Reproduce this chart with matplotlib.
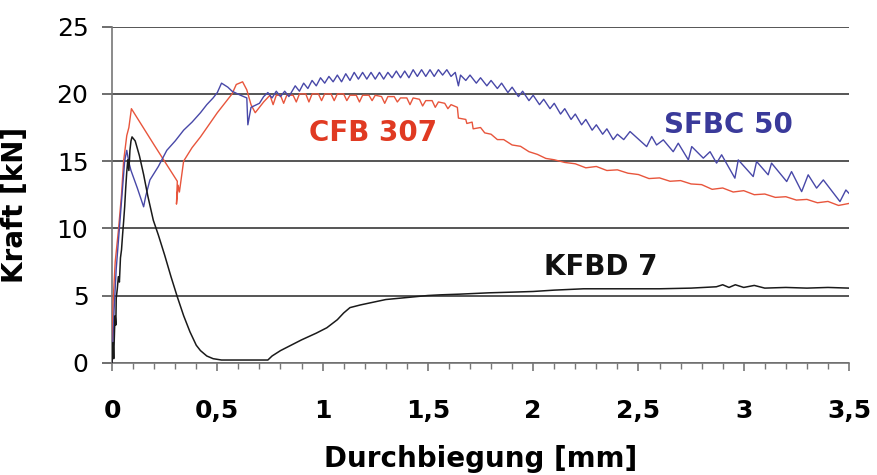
import matplotlib
matplotlib.use("Agg")
import matplotlib.pyplot as plt
from matplotlib.ticker import MultipleLocator, FuncFormatter

# ---- data ----
cfb_x = [0, 0.005, 0.015, 0.03, 0.045, 0.055, 0.07, 0.08, 0.092,
         0.2, 0.31, 0.306, 0.314, 0.32, 0.34, 0.38, 0.42, 0.46, 0.50, 0.54, 0.57, 0.59, 0.62, 0.64, 0.66, 0.68, 0.72,
         0.75, 0.765, 0.78, 0.80, 0.815, 0.83, 0.86, 0.875, 0.89, 0.92, 0.935, 0.95, 0.98, 0.995, 1.01,
         1.04, 1.055, 1.07, 1.10, 1.115, 1.13, 1.16, 1.175, 1.19, 1.22, 1.235, 1.25, 1.28, 1.295, 1.31,
         1.34, 1.355, 1.37, 1.40, 1.415, 1.43, 1.46, 1.475, 1.49, 1.52, 1.535, 1.55, 1.58, 1.595, 1.61, 1.64,
         1.645, 1.68, 1.685, 1.71, 1.715, 1.75, 1.77, 1.80, 1.83, 1.86, 1.90, 1.94, 1.98, 2.02, 2.06, 2.10,
         2.15, 2.20, 2.25, 2.30, 2.35, 2.40, 2.45, 2.50, 2.55, 2.60, 2.65, 2.70, 2.75, 2.80, 2.85, 2.90,
         2.95, 3.00, 3.05, 3.10, 3.15, 3.20, 3.25, 3.30, 3.35, 3.40, 3.45, 3.50]
cfb_y = [0, 4.5, 7.5, 9.8, 12.5, 15.0, 16.9, 17.5, 18.9,
         16.2, 13.5, 11.8, 13.2, 12.7, 15.0, 16.0, 16.8, 17.7, 18.6, 19.4, 20.0, 20.7, 20.9, 20.3, 19.2, 18.6, 19.4,
         19.9, 19.2, 19.9, 19.9, 19.3, 19.9, 19.9, 19.4, 20.0, 20.0, 19.4, 20.0, 20.0, 19.5, 20.0,
         20.0, 19.5, 20.0, 20.0, 19.5, 19.9, 19.9, 19.4, 19.9, 19.9, 19.5, 19.9, 19.8, 19.3, 19.8,
         19.8, 19.4, 19.7, 19.7, 19.2, 19.7, 19.6, 19.1, 19.5, 19.5, 19.0, 19.4, 19.3, 18.9, 19.2, 19.0,
         18.2, 18.1, 17.8, 17.9, 17.4, 17.5, 17.1, 17.0, 16.6, 16.6, 16.2, 16.1, 15.7, 15.5, 15.2, 15.1,
         14.9, 14.8, 14.5, 14.6, 14.3, 14.35, 14.1, 14.0, 13.7, 13.75, 13.5, 13.55, 13.3, 13.25, 12.9, 13.0,
         12.7, 12.8, 12.5, 12.55, 12.3, 12.35, 12.1, 12.15, 11.9, 12.0, 11.7, 11.85]

sfbc_x = [0, 0.01, 0.02, 0.035, 0.05, 0.06, 0.07, 0.08, 0.09, 0.12, 0.15, 0.16, 0.18, 0.22, 0.26, 0.30,
          0.34, 0.38, 0.42, 0.45, 0.48, 0.50, 0.52, 0.55, 0.57, 0.61, 0.64, 0.645, 0.66, 0.70, 0.72,
          0.74, 0.76, 0.78, 0.80, 0.82, 0.84, 0.87, 0.89, 0.91, 0.93, 0.95, 0.97, 0.99, 1.01, 1.03, 1.05,
          1.07, 1.09, 1.11, 1.13, 1.15, 1.17, 1.19, 1.21, 1.23, 1.25, 1.27, 1.29, 1.31, 1.33, 1.35, 1.37,
          1.39, 1.41, 1.43, 1.45, 1.47, 1.49, 1.51, 1.53, 1.55, 1.57, 1.59, 1.61, 1.63, 1.645, 1.655,
          1.68, 1.70, 1.73, 1.75, 1.78, 1.80, 1.83, 1.85, 1.88, 1.90, 1.93, 1.95, 1.98, 2.00, 2.03, 2.05,
          2.08, 2.10, 2.13, 2.15, 2.18, 2.20, 2.23, 2.25, 2.28, 2.30, 2.33, 2.35, 2.38, 2.40, 2.43,
          2.46, 2.539, 2.563, 2.586, 2.618, 2.665, 2.689, 2.737, 2.753, 2.808, 2.84, 2.871, 2.895, 2.958,
          2.974, 3.045, 3.061, 3.116, 3.132, 3.204, 3.227, 3.275, 3.306, 3.346, 3.378, 3.457, 3.485, 3.50]
sfbc_y = [0, 4.0, 7.0, 10.0, 13.0, 15.0, 15.8, 14.9, 14.3, 13.0, 11.6, 12.4, 13.6, 14.6, 15.8, 16.5,
          17.3, 17.9, 18.6, 19.2, 19.7, 20.1, 20.8, 20.5, 20.2, 19.9, 19.7, 17.7, 19.0, 19.3, 19.8,
          20.1, 19.7, 20.2, 19.8, 20.2, 19.8, 20.6, 20.2, 20.8, 20.4, 21.0, 20.6, 21.2, 20.8, 21.3, 20.9,
          21.4, 20.9, 21.5, 21.0, 21.6, 21.1, 21.6, 21.1, 21.6, 21.1, 21.6, 21.1, 21.6, 21.2, 21.7, 21.2,
          21.7, 21.2, 21.8, 21.3, 21.8, 21.3, 21.8, 21.3, 21.8, 21.4, 21.8, 21.3, 21.6, 20.6, 21.4,
          21.0, 21.4, 20.8, 21.2, 20.6, 21.0, 20.4, 20.8, 20.1, 20.5, 19.8, 20.2, 19.5, 19.9, 19.2, 19.6,
          18.9, 19.3, 18.5, 18.9, 18.1, 18.5, 17.7, 18.1, 17.3, 17.7, 17.0, 17.4, 16.6, 17.0, 16.6,
          17.2, 16.08, 16.83, 16.2, 16.58, 15.7, 16.33, 15.09, 16.08, 15.22, 15.7, 14.85, 15.47, 13.73,
          15.09, 13.85, 14.97, 13.98, 14.85, 13.48, 14.22, 12.73, 13.98, 12.99, 13.6, 11.99, 12.85, 12.6]

kfbd_x = [0, 0.005, 0.008, 0.012, 0.015, 0.018, 0.02, 0.025, 0.03, 0.035, 0.04, 0.045, 0.05, 0.055,
          0.06, 0.065, 0.07, 0.075, 0.08, 0.085, 0.09, 0.095, 0.11, 0.13, 0.15, 0.17, 0.196, 0.22, 0.25,
          0.28, 0.31, 0.34, 0.37, 0.40, 0.42, 0.45, 0.48, 0.52, 0.60, 0.74, 0.76, 0.80, 0.85, 0.90, 0.97,
          1.02, 1.07, 1.10, 1.13, 1.18, 1.24, 1.30, 1.40, 1.50, 1.56, 1.65, 1.79, 1.90, 2.00, 2.10, 2.24,
          2.40, 2.60, 2.75, 2.87, 2.90, 2.93, 2.96, 3.00, 3.05, 3.10, 3.20, 3.30, 3.40, 3.50]
kfbd_y = [0, 1.5, 0.3, 2.5, 3.5, 2.8, 4.8, 5.5, 6.4, 6.0, 7.8, 8.4, 9.5, 10.5,
          11.6, 13.0, 14.2, 15.1, 14.3, 15.8, 16.5, 16.8, 16.5, 15.4, 14.0, 12.4, 10.6, 9.5, 8.0,
          6.4, 4.9, 3.5, 2.3, 1.3, 0.9, 0.5, 0.3, 0.2, 0.2, 0.2, 0.5, 0.9, 1.3, 1.7, 2.2,
          2.6, 3.2, 3.7, 4.1, 4.3, 4.5, 4.7, 4.85, 5.0, 5.05, 5.1, 5.2, 5.25, 5.3, 5.4, 5.5,
          5.5, 5.5, 5.55, 5.65, 5.8, 5.6, 5.8, 5.6, 5.75, 5.55, 5.6, 5.55, 5.6, 5.55]

series_names = ["CFB 307", "SFBC 50", "KFBD 7"]
x_ticks = [0, 0.5, 1, 1.5, 2, 2.5, 3, 3.5]
y_ticks = [0, 5, 10, 15, 20, 25]

# ---- figure ----
fig = plt.figure(figsize=(8.78, 4.75), dpi=100)
ax = fig.add_axes([0.1276, 0.2364, 0.967 - 0.1276, 0.9438 - 0.2364])

red = "#e8553c"
blue = "#4848a8"
ax.plot(cfb_x, cfb_y, color=red, lw=1.0, zorder=3)
ax.plot(sfbc_x, sfbc_y, color=blue, lw=1.0, zorder=4)
ax.plot(kfbd_x, kfbd_y, color="#1a1a1a", lw=1.1, zorder=5)

ax.set_xlim(0, 3.5)
ax.set_ylim(0, 25)
ax.set_yticks(y_ticks)
ax.set_xticks(x_ticks)
ax.xaxis.set_minor_locator(MultipleLocator(0.1))
ax.yaxis.grid(True, color="#555555", lw=1.4)
ax.set_axisbelow(True)

for s in ["top", "right"]:
    ax.spines[s].set_visible(False)
for s in ["left", "bottom"]:
    ax.spines[s].set_color("#777777")
    ax.spines[s].set_linewidth(1.2)

ax.xaxis.set_major_formatter(FuncFormatter(lambda v, p: ("%g" % v).replace(".", ",")))
ax.tick_params(axis="y", direction="out", length=7, width=1.2, color="#555555",
               labelsize=18, pad=10)
ax.tick_params(axis="x", which="major", direction="out", length=6, width=1.2, color="#777777",
               labelsize=18, pad=20)
ax.tick_params(axis="x", which="minor", direction="out", length=4, width=1.0, color="#777777")
for lab in ax.get_xticklabels():
    lab.set_fontweight("bold")

ax.set_xlabel("Durchbiegung [mm]", fontsize=20, fontweight="bold")
ax.set_ylabel("Kraft [kN]", fontsize=20, fontweight="bold")
ax.yaxis.set_label_coords(-0.112, 0.47)
ax.xaxis.set_label_coords(0.5, -0.245)

ax.text(1.24, 17.1, series_names[0], color="#e03a22", fontsize=20, fontweight="bold",
        ha="center", va="center")
ax.text(2.925, 17.7, series_names[1], color="#3a3a9a", fontsize=20, fontweight="bold",
        ha="center", va="center")
ax.text(2.32, 7.14, series_names[2], color="#111111", fontsize=20, fontweight="bold",
        ha="center", va="center")

fig.savefig("out.png", dpi=100)
